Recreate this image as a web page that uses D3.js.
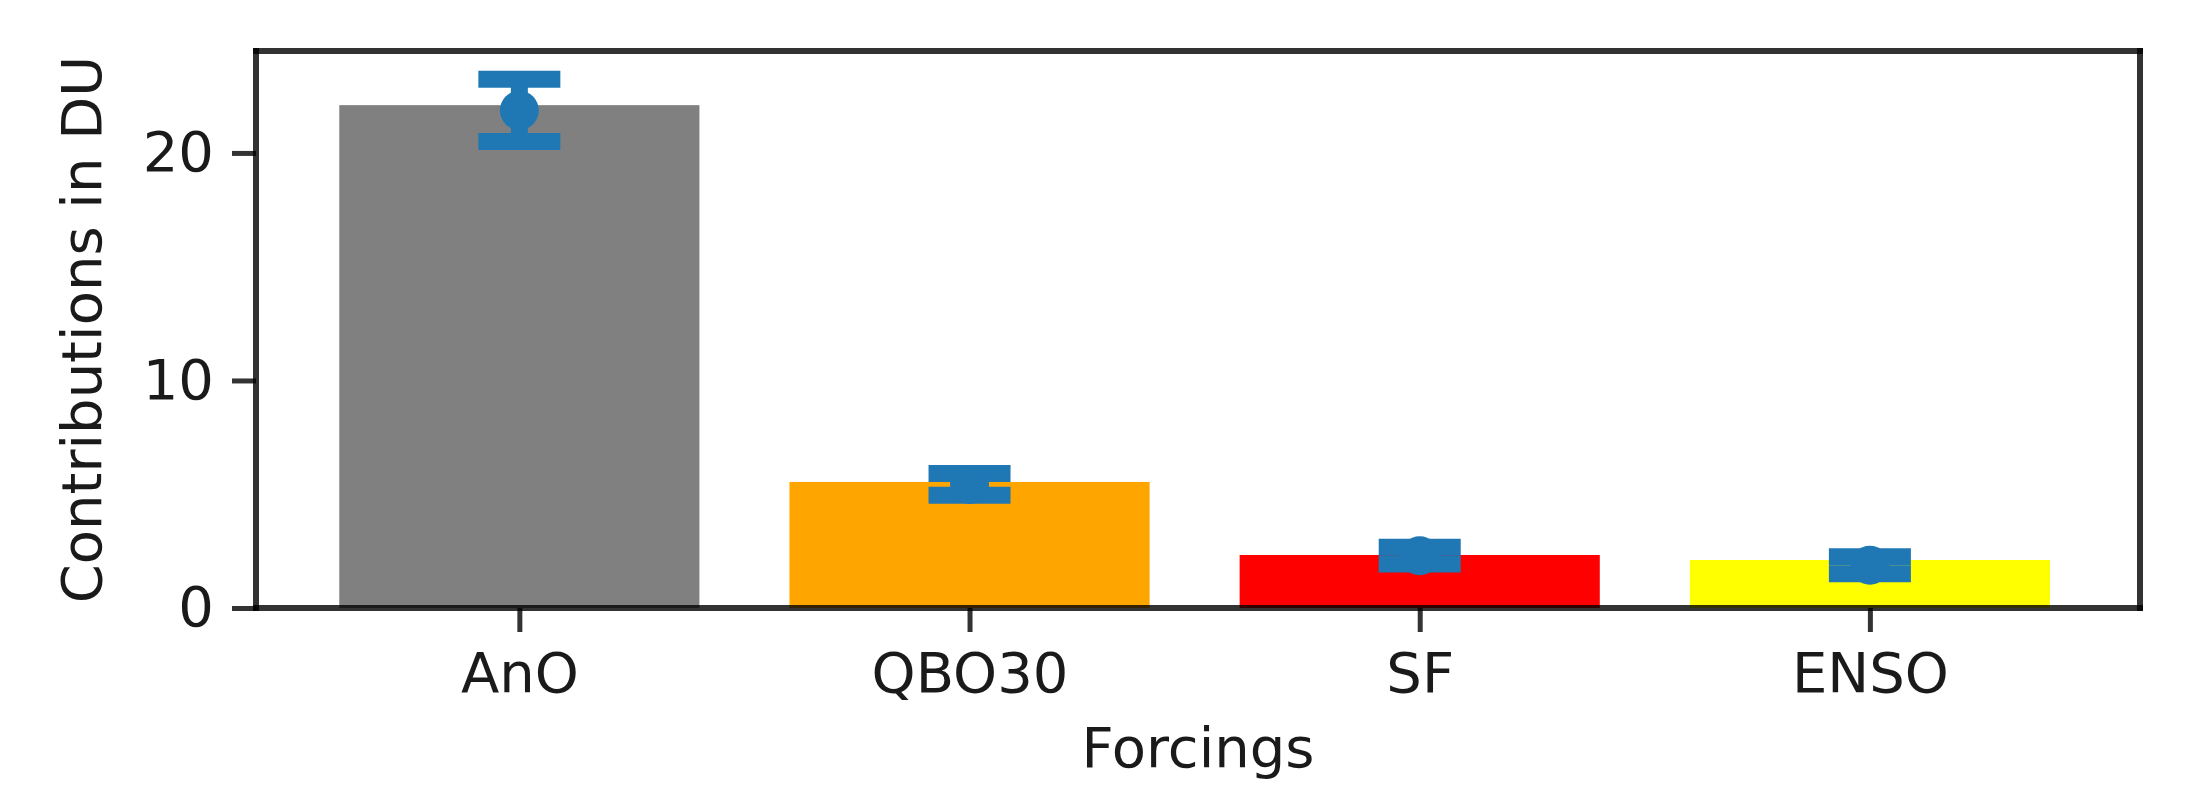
<!DOCTYPE html>
<html lang="en">
<head>
    <meta charset="UTF-8">
    <title>Forcings contributions</title>
    <script src="https://d3js.org/d3.v7.min.js"></script>
    <style>
        body { margin: 0; background: white; }
        text { font-family: "DejaVu Sans", sans-serif; fill: #1a1a1a; }
    </style>
</head>
<body>
<svg width=2188 height=808></svg>
<script>
// Data
var forcings = ["AnO", "QBO30", "SF", "ENSO"];
var barValues = [22.1, 5.54, 2.33, 2.11];
var meanValues = [21.87, 5.43, 2.30, 1.88];
var errValues = [1.37, 0.48, 0.37, 0.37];
var barColors = ["grey", "orange", "red", "yellow"];
var yTicks = [0, 10, 20];

var svg = d3.select("svg");

// frame of the axes
var axLeft = 256, axRight = 2140, axTop = 51, axBottom = 608;

// x: one unit per forcing, bars 0.8 wide
var x = d3.scaleLinear().domain([-0.585, 3.6]).range([axLeft, axRight]);
// y
var y = d3.scaleLinear().domain([0, 24.48]).range([axBottom, axTop]);

// bars
svg.append("g")
    .selectAll("rect")
    .data(forcings)
    .enter()
    .append("rect")
    .attr("x", function (d, i) { return x(i - 0.4); })
    .attr("width", function (d, i) { return x(i + 0.4) - x(i - 0.4); })
    .attr("y", function (d, i) { return y(barValues[i]); })
    .attr("height", function (d, i) { return y(0) - y(barValues[i]); })
    .attr("fill", function (d, i) { return barColors[i]; });

// error bars with caps and a dot
var blue = "#1f77b4";
var eb = svg.append("g").selectAll("g")
    .data(forcings)
    .enter()
    .append("g");

eb.append("line")
    .attr("x1", function (d, i) { return x(i); })
    .attr("x2", function (d, i) { return x(i); })
    .attr("y1", function (d, i) { return y(meanValues[i] - errValues[i]); })
    .attr("y2", function (d, i) { return y(meanValues[i] + errValues[i]); })
    .attr("stroke", blue)
    .attr("stroke-width", 17);

[-1, 1].forEach(function (s) {
    eb.append("line")
        .attr("x1", function (d, i) { return x(i) - 41; })
        .attr("x2", function (d, i) { return x(i) + 41; })
        .attr("y1", function (d, i) { return y(meanValues[i] + s * errValues[i]); })
        .attr("y2", function (d, i) { return y(meanValues[i] + s * errValues[i]); })
        .attr("stroke", blue)
        .attr("stroke-width", 17);
});

eb.append("circle")
    .attr("cx", function (d, i) { return x(i); })
    .attr("cy", function (d, i) { return y(meanValues[i]); })
    .attr("r", 19.5)
    .attr("fill", blue);

// spines
var spine = svg.append("g")
    .attr("stroke", "black")
    .attr("stroke-opacity", 0.8)
    .attr("stroke-width", 6);
spine.append("line").attr("x1", axLeft).attr("x2", axLeft).attr("y1", axTop - 3).attr("y2", axBottom + 3);
spine.append("line").attr("x1", axRight).attr("x2", axRight).attr("y1", axTop - 3).attr("y2", axBottom + 3);
spine.append("line").attr("x1", axLeft - 3).attr("x2", axRight + 3).attr("y1", axTop).attr("y2", axTop);
spine.append("line").attr("x1", axLeft - 3).attr("x2", axRight + 3).attr("y1", axBottom).attr("y2", axBottom);

// bottom axis
var xAxis = svg.append("g")
    .attr("transform", "translate(0," + axBottom + ")")
    .call(d3.axisBottom(x)
        .tickValues(d3.range(forcings.length))
        .tickFormat(function (i) { return forcings[i]; })
        .tickSize(24)
        .tickPadding(20));
xAxis.select(".domain").remove();
xAxis.selectAll(".tick line").attr("stroke", "black").attr("stroke-opacity", 0.8).attr("stroke-width", 5);
xAxis.selectAll(".tick text")
    .attr("font-size", "56px")
    .attr("font-family", "DejaVu Sans")
    .attr("fill", "#1a1a1a");

// left axis
var yAxis = svg.append("g")
    .attr("transform", "translate(" + axLeft + ",0)")
    .call(d3.axisLeft(y)
        .tickValues(yTicks)
        .tickSize(24)
        .tickPadding(18));
yAxis.select(".domain").remove();
yAxis.selectAll(".tick line").attr("stroke", "black").attr("stroke-opacity", 0.8).attr("stroke-width", 5);
yAxis.selectAll(".tick text")
    .attr("font-size", "56px")
    .attr("font-family", "DejaVu Sans")
    .attr("fill", "#1a1a1a");

// axis labels
svg.append("text")
    .attr("x", (axLeft + axRight) / 2)
    .attr("y", 767)
    .attr("text-anchor", "middle")
    .attr("font-size", "56px")
    .text("Forcings");

svg.append("text")
    .attr("transform", "translate(101," + ((axTop + axBottom) / 2) + ") rotate(-90)")
    .attr("text-anchor", "middle")
    .attr("font-size", "56px")
    .text("Contributions in DU");
</script>
</body>
</html>
